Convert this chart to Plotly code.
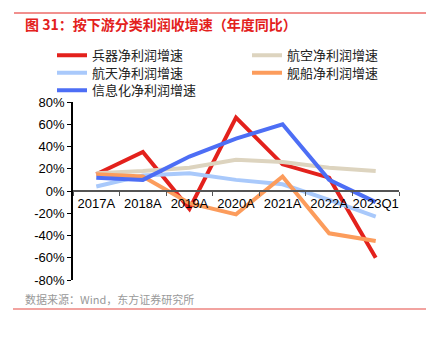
import plotly.graph_objects as go

categories = ["2017A", "2018A", "2019A", "2020A", "2021A", "2022A", "2023Q1"]
weapons = [15, 35, -16, 66, 24, 12, -60]
aviation = [16, 18, 21, 28, 26, 21, 18]
space = [4, 14, 16, 10, 6, -8, -23]
ships = [15, 13, -11, -21, 13, -38, -45]
info = [12, 10, 31, 47, 60, 10, -10]
yticks = [-80, -60, -40, -20, 0, 20, 40, 60, 80]
ytick_labels = [f"{v}%" for v in yticks]

names = ["兵器净利润增速", "航空净利润增速", "航天净利润增速", "舰船净利润增速", "信息化净利润增速"]
series = [weapons, aviation, space, ships, info]
colors = ["#e3211c", "#ddd4bf", "#a9c9fb", "#fc9c5c", "#4d6ef5"]
legend_ids = ["legend", "legend2", "legend3", "legend4", "legend5"]

fig = go.Figure()
for n, s, c, lg in zip(names, series, colors, legend_ids):
    fig.add_trace(go.Scatter(x=categories, y=s, mode="lines", name=n,
                             line=dict(color=c, width=4), legend=lg))

font_main = "Liberation Sans, Arial, Noto Sans CJK SC"
leg_common = dict(orientation="v", xanchor="left", yanchor="top",
                  traceorder="normal", tracegroupgap=0, itemwidth=30,
                  font=dict(family="Noto Sans CJK SC", size=13, color="#222"),
                  bgcolor="rgba(0,0,0,0)")
xl, xr = (52 - 73) / 326, (247 - 73) / 326
row_y = [(280 - 40.2) / 178, (280 - 57.8) / 178, (280 - 75.2) / 178]
fig.update_layout(
    width=428, height=337,
    margin=dict(l=73, r=29, t=102, b=57),
    paper_bgcolor="white", plot_bgcolor="white",
    font=dict(family=font_main, size=13, color="black"),
    showlegend=True,
    legend=dict(x=xl, y=row_y[0], **leg_common),
    legend2=dict(x=xr, y=row_y[0], **leg_common),
    legend3=dict(x=xl, y=row_y[1], **leg_common),
    legend4=dict(x=xr, y=row_y[1], **leg_common),
    legend5=dict(x=xl, y=row_y[2], **leg_common),
    xaxis=dict(type="category", range=[-0.5, 6.5], anchor="free", position=0.5,
               showline=True, linecolor="#555", linewidth=2,
               ticks="outside", ticklen=4, tickcolor="#555", tickson="boundaries",
               showgrid=False, zeroline=False, tickangle=0,
               tickfont=dict(family=font_main, size=13, color="black")),
    yaxis=dict(range=[-80, 80], tickvals=yticks, ticktext=ytick_labels,
               showline=True, linecolor="black", linewidth=1.5,
               ticks="outside", ticklen=4, tickcolor="black",
               showgrid=False, zeroline=False,
               tickfont=dict(family=font_main, size=13, color="black")),
)

fig.add_shape(type="line", xref="paper", yref="paper",
              x0=(14 - 73) / 326, x1=(426 - 73) / 326,
              y0=(337 - 57 - 13) / 178, y1=(337 - 57 - 13) / 178,
              line=dict(color="#e3211c", width=1))
fig.add_shape(type="line", xref="paper", yref="paper",
              x0=(13 - 73) / 326, x1=(426 - 73) / 326,
              y0=(280 - 309) / 178, y1=(280 - 309) / 178,
              line=dict(color="#f2a3a0", width=2))

fig.add_annotation(text="<b>图 31：按下游分类利润收增速（年度同比）</b>",
                   xref="paper", yref="paper", x=(23 - 73) / 326, y=(280 - 24) / 178,
                   xanchor="left", yanchor="middle", showarrow=False,
                   font=dict(family="Noto Sans CJK SC", size=14, color="#e3211c"))
fig.add_annotation(text="数据来源：Wind，东方证券研究所",
                   xref="paper", yref="paper", x=(23 - 73) / 326, y=(280 - 299) / 178,
                   xanchor="left", yanchor="middle", showarrow=False,
                   font=dict(family="Noto Sans CJK SC", size=11, color="#999"))

fig.write_html("out.html")
